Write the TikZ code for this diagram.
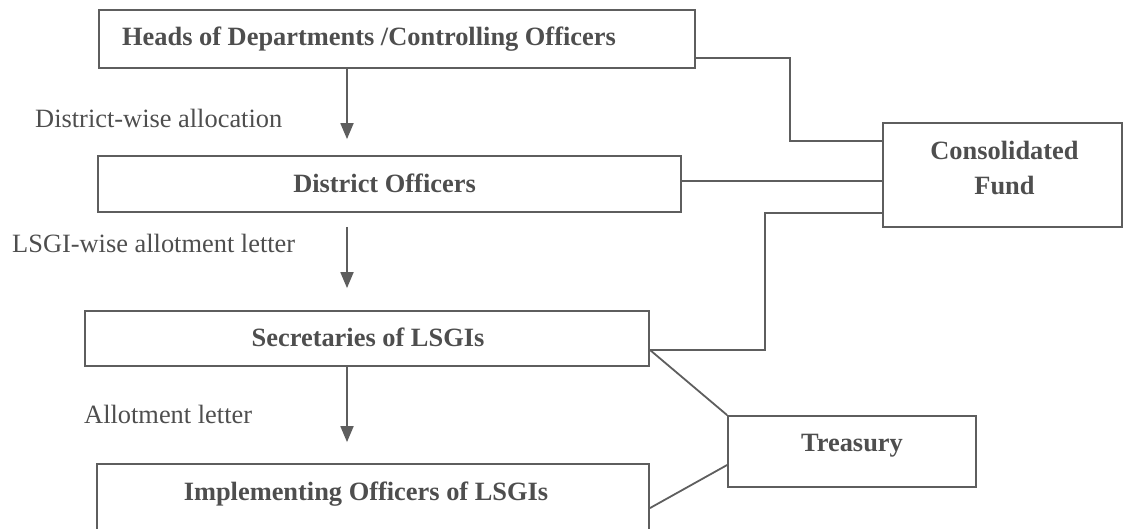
\documentclass[tikz,border=0pt]{standalone}
\usepackage{fontspec}
\setmainfont{Liberation Serif}
\usetikzlibrary{arrows.meta}
\definecolor{ink}{HTML}{4E4E4E}
\definecolor{rule}{HTML}{5E5E5E}
\begin{document}
\begin{tikzpicture}[x=1pt, y=-1pt,
  box/.style={draw=rule, line width=1.8pt, rectangle, inner sep=0pt},
  boxtext/.style={text=ink, font=\fontsize{26.4}{35}\selectfont\bfseries, align=center},
  note/.style={text=ink, font=\fontsize{26.4}{35}\selectfont, inner sep=0pt, anchor=base west},
  link/.style={draw=rule, line width=1.8pt},
  flow/.style={link, -{Triangle[width=13pt,length=16pt]}}
]
\useasboundingbox (0,0) rectangle (1123,528);
\clip (0,0) rectangle (1123,528);

% boxes
\node[box, minimum width=596pt, minimum height=58pt, label={[boxtext, xshift=-28pt]center:Heads of Departments /Controlling Officers}]
  (hd) at (397,39) {};
\node[box, minimum width=583pt, minimum height=56pt, label={[boxtext, yshift=1pt, xshift=-5pt]center:District Officers}]
  (do) at (389.5,184) {};
\node[box, minimum width=564pt, minimum height=55pt, label={[boxtext, yshift=1pt, xshift=1pt]center:Secretaries of LSGIs}]
  (sec) at (367,338.5) {};
\node[box, minimum width=552pt, minimum height=90pt, label={[boxtext, yshift=15pt, xshift=-7pt]center:Implementing Officers of LSGIs}]
  (imp) at (373,509) {};
\node[box, minimum width=239pt, minimum height=104pt, label={[boxtext, yshift=7pt, xshift=2pt]center:Consolidated\\Fund}]
  (cf) at (1002.5,175) {};
\node[box, minimum width=248pt, minimum height=71pt, label={[boxtext, yshift=6pt]center:Treasury}]
  (tr) at (852,451.5) {};

% flow labels
\node[note] (l1) at (35,127) {District-wise allocation};
\node[note] (l2) at (12,252) {LSGI-wise allotment letter};
\node[note] (l3) at (84,423) {Allotment letter};

% vertical flow arrows
\coordinate (ax) at (347,0);
\draw[flow] (hd.south -| ax) -- ([yshift=16pt]do.north -| ax);
\draw[flow] ([yshift=-14pt]do.south -| ax) -- ([yshift=22pt]sec.north -| ax);
\draw[flow] (sec.south -| ax) -- ([yshift=21pt]imp.north -| ax);

% links to the Consolidated Fund
\draw[link] ([yshift=11pt]hd.south east) -- ++(94,0) |- ([yshift=-19pt]cf.north west);
\draw[link] ([yshift=3pt]do.east) -- ([yshift=3pt]do.east -| cf.west);
\coordinate (sj) at ([yshift=17pt]sec.south east);
\draw[link] ([yshift=15pt]cf.south west) -- ++(-117,0) |- (sj);

% links to the Treasury
\draw[link] (sj) -- (tr.north west);
\draw[link] ([yshift=-45pt]imp.north east) -- ([yshift=-13.5pt]tr.west);
\end{tikzpicture}
\end{document}
